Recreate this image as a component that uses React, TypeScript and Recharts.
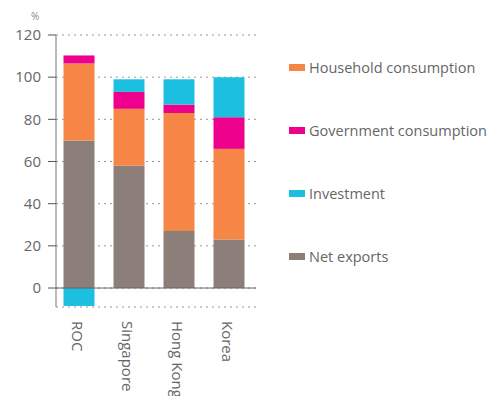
import React from 'react'
import {
  BarChart,
  Bar,
  XAxis,
  YAxis,
  CartesianGrid,
  ReferenceLine,
} from 'recharts'

const economies = ['ROC', 'Singapore', 'Hong Kong', 'Korea']
const netExports = [70, 58, 27, 23]
const household = [36.5, 27, 56, 43]
const government = [3.8, 8, 4, 15]
const investment = [-8.5, 6, 12, 19]
const yTicks = [0, 20, 40, 60, 80, 100, 120]

const series = [
  { key: 'netExports', name: 'Net exports', color: '#8C7F7A' },
  { key: 'household', name: 'Household consumption', color: '#F58646' },
  { key: 'government', name: 'Government consumption', color: '#EC008C' },
  { key: 'investment', name: 'Investment', color: '#1CBFE0' },
]

// legend is listed top-down differently from the stack order
const legendOrder = ['household', 'government', 'investment', 'netExports']

const data = economies.map((name, i) => ({
  name,
  netExports: netExports[i],
  household: household[i],
  government: government[i],
  investment: investment[i],
}))

const font = '"Open Sans", sans-serif'

const RotatedTick = (props: any) => {
  const { x, y, payload } = props
  return (
    <text
      transform={`translate(${x - 7},${y + 6}) rotate(90)`}
      textAnchor="start"
      fill="#666"
      fontSize={15}
      fontFamily={font}
    >
      {payload.value}
    </text>
  )
}

export default function App() {
  return (
    <div style={{ position: 'relative', width: 488, height: 388 }}>
      <BarChart
        width={488}
        height={388}
        data={data}
        stackOffset="sign"
        barCategoryGap="19%"
        margin={{ top: 27, right: 240, left: 0, bottom: 0 }}
      >
        <CartesianGrid
          horizontal
          vertical={false}
          stroke="#999"
          strokeDasharray="2 4"
        />
        <XAxis
          dataKey="name"
          axisLine={false}
          tickLine={false}
          height={89}
          interval={0}
          padding={{ left: -2, right: 2 }}
          tick={<RotatedTick />}
        />
        <YAxis
          width={48}
          domain={[-9, 120]}
          ticks={yTicks}
          interval={0}
          tickSize={8}
          tickMargin={7}
          axisLine={{ stroke: '#777' }}
          tickLine={{ stroke: '#555' }}
          tick={{ fill: '#666', fontSize: 15, fontFamily: font }}
        />
        {series.map((s) => (
          <Bar
            key={s.key}
            dataKey={s.key}
            name={s.name}
            stackId="a"
            fill={s.color}
            isAnimationActive={false}
          />
        ))}
        <ReferenceLine y={0} stroke="#666" />
      </BarChart>
      <div
        style={{
          position: 'absolute',
          left: 23,
          top: 2,
          fontSize: 10,
          lineHeight: '12px',
          color: '#888',
          fontFamily: font,
        }}
      >
        %
      </div>
      <div style={{ position: 'absolute', left: 281, top: 49, fontFamily: font }}>
        {legendOrder.map((k) => {
          const s = series.find((x) => x.key === k)!
          return (
            <div
              key={k}
              style={{
                display: 'flex',
                alignItems: 'center',
                height: 21,
                marginBottom: 42,
                color: '#666',
                fontSize: 14.5,
              }}
            >
              <span
                style={{
                  display: 'inline-block',
                  width: 16,
                  height: 7,
                  background: s.color,
                  marginRight: 4,
                }}
              />
              {s.name}
            </div>
          )
        })}
      </div>
    </div>
  )
}
